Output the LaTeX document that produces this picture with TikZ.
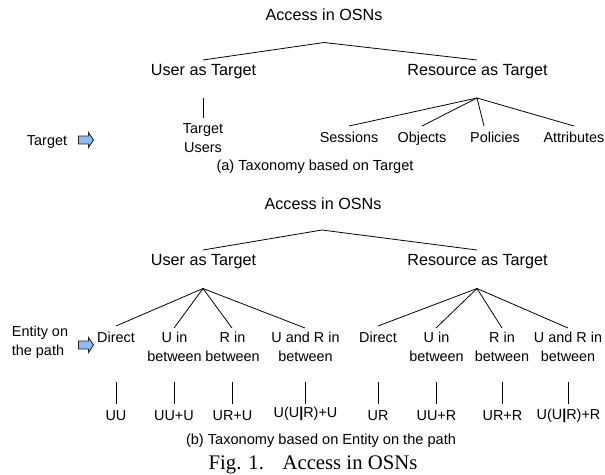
\documentclass[tikz,border=0pt]{standalone}
\usepackage{fontspec}
\setmainfont{Liberation Sans}
\newfontfamily\figfont{Liberation Serif}
\newcommand{\lbl}{\fontsize{8.2pt}{10.9pt}\selectfont}
\newcommand{\hdl}{\fontsize{9.2pt}{11pt}\selectfont}
\newcommand{\cpt}{\fontsize{8.3pt}{10pt}\selectfont}
\newcommand{\barU}{\textbf{|}}
\definecolor{arrowfill}{HTML}{8DBBF2}
\tikzset{
  lab/.style={inner sep=0pt,font=\lbl,align=center},
  hd/.style={inner sep=0pt,font=\hdl},
  capt/.style={inner sep=0pt,font=\cpt},
  linkline/.style={draw=black,line width=0.45pt},
  tgtarrow/.style={draw=black!85,fill=arrowfill,line width=0.5pt,line join=miter}
}
\begin{document}
\begin{tikzpicture}[x=0.02cm,y=-0.02cm]
\useasboundingbox (0,0) rectangle (605,474);
% top tree
\node[hd] (atop) at (324,15) {Access in OSNs};
\node[hd] (u1) at (203.5,72) {User as Target};
\node[hd] (r1) at (477.5,72) {Resource as Target};
\node[lab] (tu) at (203,138.5) {Target\\Users};
\node[lab] (se) at (349,137) {Sessions};
\node[lab,anchor=base] (ob) at (422,142) {Objects};
\node[lab] (po) at (495,137) {Policies};
\node[lab] (at) at (574,137) {Attributes};
\node[lab,anchor=base] (tl) at (47,145) {Target};
\coordinate (ta) at (86,140);
\node[capt] (ca) at (315,167) {(a) Taxonomy based on Target};
\coordinate (a0) at (324,42.5);
\coordinate (a1) at (203,60);
\coordinate (a2) at (477,60);
\coordinate (b0) at (203,98);
\coordinate (b1) at (203,118);
\coordinate (c0) at (477,98);
\coordinate (c1) at (349,126);
\coordinate (c2) at (422,126);
\coordinate (c3) at (484,126);
\coordinate (c4) at (574,126);
\draw[linkline] (a1) -- (a0) -- (a2);
\draw[linkline] (b0) -- (b1);
\foreach \e in {c1,c2,c3,c4} \draw[linkline] (c0) -- (\e);
% bottom tree
\node[hd] (abot) at (323,204) {Access in OSNs};
\node[hd] (u2) at (203.5,262) {User as Target};
\node[hd] (r2) at (477.5,262) {Resource as Target};
\node[lab,align=left] (el) at (40,342) {Entity on\\the path};
\coordinate (tb) at (86,345);
\node[lab] (d1) at (116,337) {Direct};
\node[lab] (d2) at (378,337) {Direct};
\node[lab] (n1) at (174.5,347) {U in\\between};
\node[lab] (n2) at (232.5,347) {R in\\between};
\node[lab] (n3) at (305.5,347) {U and R in\\between};
\node[lab] (n4) at (436.5,347) {U in\\between};
\node[lab] (n5) at (502,347) {R in\\between};
\node[lab] (n6) at (568,347) {U and R in\\between};
\node[lab] (l1) at (116,416) {UU};
\node[lab] (l2) at (174,416) {UU+U};
\node[lab] (l3) at (232.5,416) {UR+U};
\node[lab] (l4) at (305.5,414) {U(U\barU R)+U};
\node[lab] (l5) at (378,416) {UR};
\node[lab] (l6) at (436.5,416) {UU+R};
\node[lab] (l7) at (502.5,416) {UR+R};
\node[lab] (l8) at (568.5,416) {U(U\barU R)+R};
\node[capt] (cb) at (321,441) {(b) Taxonomy based on Entity on the path};
\node[inner sep=0pt,font=\figfont\fontsize{11.8pt}{13pt}\selectfont] (fig) at (313,465) {Fig. 1.\hspace{0.9em}Access in OSNs};
\coordinate (e0) at (322,230);
\coordinate (e1) at (203,250);
\coordinate (e2) at (477,250);
\draw[linkline] (e1) -- (e0) -- (e2);
\coordinate (f0) at (203,288.5);
\coordinate (g0) at (477,288.5);
\coordinate (f1) at (116,326);
\coordinate (f2) at (174,328);
\coordinate (f3) at (232,328);
\coordinate (f4) at (305,328);
\coordinate (g1) at (378,326);
\coordinate (g2) at (436,328);
\coordinate (g3) at (502,328);
\coordinate (g4) at (568,328);
\foreach \e in {f1,f2,f3,f4} \draw[linkline] (f0) -- (\e);
\foreach \e in {g1,g2,g3,g4} \draw[linkline] (g0) -- (\e);
\foreach \i/\x in {1/116,2/174,3/232,4/305,5/378,6/436,7/502,8/568}{
  \coordinate (h\i) at (\x,382);
  \coordinate (k\i) at (\x,404);
  \draw[linkline] (h\i) -- (k\i);
}
% block arrows
\foreach \p in {ta,tb}
  \draw[tgtarrow] ([shift={(-7.5,-4)}]\p) -- ([shift={(2.5,-4)}]\p) -- ([shift={(2.5,-7.5)}]\p)
    -- ([shift={(7.5,0)}]\p) -- ([shift={(2.5,7.5)}]\p) -- ([shift={(2.5,4)}]\p) -- ([shift={(-7.5,4)}]\p) -- cycle;
\end{tikzpicture}
\end{document}
